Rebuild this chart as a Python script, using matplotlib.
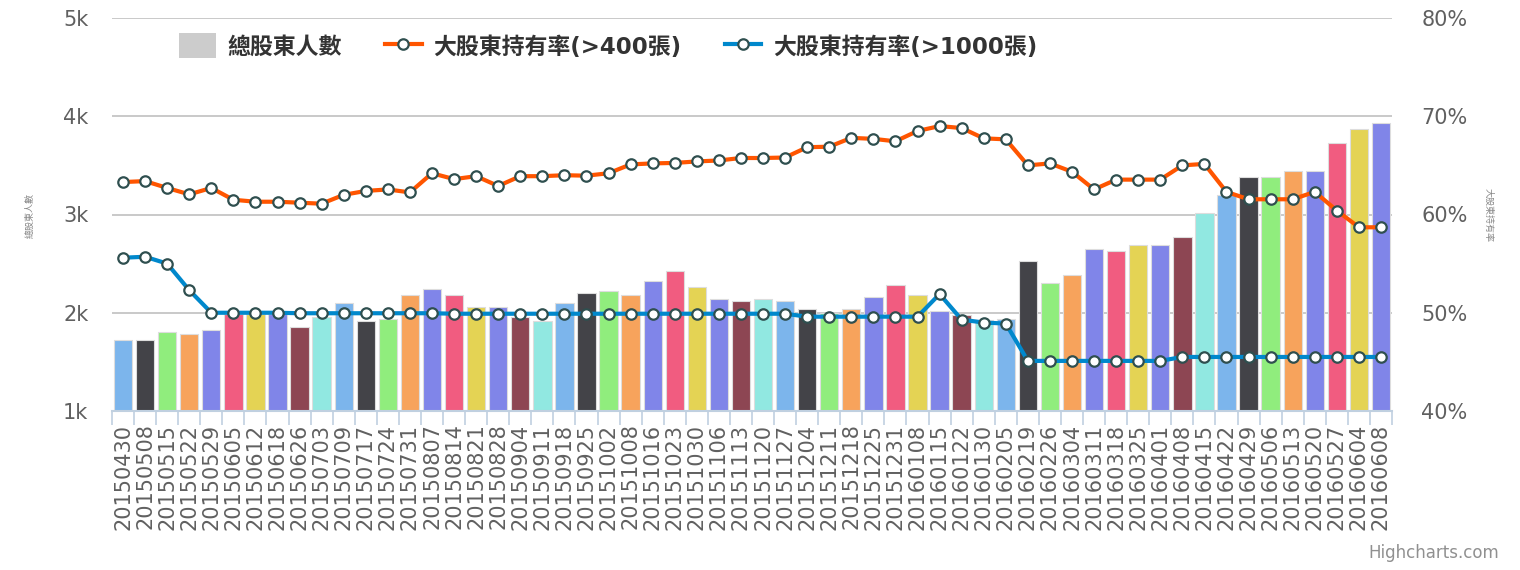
import matplotlib.pyplot as plt
from matplotlib.lines import Line2D
from matplotlib.patches import Patch
from matplotlib.ticker import FuncFormatter, MultipleLocator

plt.rcParams['font.family'] = ['DejaVu Sans', 'Noto Sans CJK TC']

# dates (x categories)
dates = ["20150430", "20150508", "20150515", "20150522", "20150529", "20150605",
         "20150612", "20150618", "20150626", "20150703", "20150709", "20150717",
         "20150724", "20150731", "20150807", "20150814", "20150821", "20150828",
         "20150904", "20150911", "20150918", "20150925", "20151002", "20151008",
         "20151016", "20151023", "20151030", "20151106", "20151113", "20151120",
         "20151127", "20151204", "20151211", "20151218", "20151225", "20151231",
         "20160108", "20160115", "20160122", "20160130", "20160205", "20160219",
         "20160226", "20160304", "20160311", "20160318", "20160325", "20160401",
         "20160408", "20160415", "20160422", "20160429", "20160506", "20160513",
         "20160520", "20160527", "20160604", "20160608"]

# total shareholders
holders = [1720, 1720, 1800, 1780, 1820, 1990, 1990, 1990, 1860, 1960,
           2100, 1920, 1940, 2185, 2245, 2180, 2060, 2060, 1960, 1920,
           2100, 2205, 2220, 2180, 2325, 2425, 2265, 2140, 2120, 2140,
           2120, 2040, 2000, 2040, 2160, 2285, 2180, 2020, 1980, 1925,
           1935, 2530, 2305, 2385, 2650, 2630, 2690, 2690, 2770, 3015,
           3200, 3380, 3380, 3445, 3445, 3730, 3870, 3935]

# holding ratio >400
ratio_400 = [63.3, 63.4, 62.7, 62.05, 62.7, 61.5, 61.3, 61.3, 61.2, 61.1,
             62.0, 62.4, 62.55, 62.25, 64.2, 63.6, 63.9, 62.9, 63.9, 63.9,
             64.0, 63.95, 64.2, 65.1, 65.2, 65.25, 65.4, 65.5, 65.75, 65.75,
             65.8, 66.85, 66.9, 67.8, 67.7, 67.45, 68.5, 69.0, 68.8, 67.75,
             67.65, 65.0, 65.2, 64.35, 62.55, 63.55, 63.55, 63.55, 65.0, 65.15,
             62.3, 61.55, 61.55, 61.55, 62.3, 60.4, 58.7, 58.7]

# holding ratio >1000
ratio_1000 = [55.6, 55.7, 55.0, 52.3, 50.0, 50.0, 50.0, 50.0, 49.95, 49.95,
              49.95, 49.95, 49.95, 49.95, 49.95, 49.9, 49.9, 49.9, 49.9, 49.9,
              49.9, 49.9, 49.9, 49.9, 49.9, 49.9, 49.9, 49.9, 49.9, 49.9,
              49.9, 49.6, 49.6, 49.6, 49.6, 49.6, 49.6, 51.9, 49.3, 49.0,
              48.9, 45.1, 45.1, 45.1, 45.1, 45.1, 45.1, 45.1, 45.5, 45.5,
              45.5, 45.5, 45.5, 45.5, 45.5, 45.5, 45.5, 45.5]

palette = ['#7cb5ec', '#434348', '#90ed7d', '#f7a35c', '#8085e9',
           '#f15c80', '#e4d354', '#8085e8', '#8d4653', '#91e8e1']
bar_colors = [palette[i % len(palette)] for i in range(len(dates))]

fig = plt.figure(figsize=(15.2, 5.7), dpi=100)
ax = fig.add_axes([112 / 1520, 1 - 411 / 570, 1280 / 1520, 393 / 570])
x = list(range(len(dates)))

ax.bar(x, holders, width=0.83, bottom=0, color=bar_colors,
       edgecolor='#dddddd', linewidth=0.8, zorder=2)
ax.set_ylim(1000, 5000)
ax.set_xlim(-0.5, len(dates) - 0.5)
ax.yaxis.set_major_locator(MultipleLocator(1000))
ax.yaxis.set_major_formatter(FuncFormatter(lambda v, p: f"{int(v / 1000)}k"))
ax.grid(axis='y', color='#c0c0c0', linewidth=1.2, zorder=0)
ax.set_axisbelow(True)
for s in ['top', 'left', 'right']:
    ax.spines[s].set_visible(False)
ax.spines['bottom'].set_color('#c0d0e0')
ax.spines['bottom'].set_linewidth(1.5)

ax.set_xticks(x)
ax.set_xticklabels(dates, rotation=90, fontsize=15, color='#606060')
ax.set_xticks([i - 0.5 for i in range(len(dates) + 1)], minor=True)
ax.tick_params(axis='x', which='major', length=0, pad=9)
ax.tick_params(axis='x', which='minor', length=10, color='#c0d0e0', width=1.2)
ax.tick_params(axis='y', length=0, labelsize=15, labelcolor='#606060', pad=17)

ax2 = ax.twinx()
ax2.set_ylim(40, 80)
ax2.yaxis.set_major_locator(MultipleLocator(10))
ax2.yaxis.set_major_formatter(FuncFormatter(lambda v, p: f"{int(v)}%"))
ax2.tick_params(axis='y', length=0, labelsize=15, labelcolor='#606060', pad=21)
for s in ['top', 'left', 'right', 'bottom']:
    ax2.spines[s].set_visible(False)

mk = dict(marker='o', markersize=7.5, markerfacecolor='white',
          markeredgecolor='#2f4f4f', markeredgewidth=1.6)
ax2.plot(x, ratio_400, color='#ff5500', linewidth=3, zorder=4, **mk)
ax2.plot(x, ratio_1000, color='#0088cc', linewidth=3, zorder=3, **mk)

# axis titles
fig.text(30 / 1520, 1 - 215 / 570, '總股東人數', rotation=90, fontsize=6.5,
         color='#888888', ha='center', va='center')
fig.text(1488 / 1520, 1 - 215 / 570, '大股東持有率', rotation=270, fontsize=6.5,
         color='#888888', ha='center', va='center')

handles = [
    Patch(facecolor='#cccccc', edgecolor='none'),
    Line2D([], [], color='#ff5500', linewidth=3, **mk),
    Line2D([], [], color='#0088cc', linewidth=3, **mk),
]
labels = ['總股東人數', '大股東持有率(>400張)', '大股東持有率(>1000張)']
leg = fig.legend(handles, labels, loc='center', ncol=3, frameon=False,
                 bbox_to_anchor=(608 / 1520, 1 - 46 / 570),
                 prop={'size': 16.5, 'weight': 'bold'},
                 handlelength=1.6, handleheight=1.3, columnspacing=1.9,
                 handletextpad=0.5)
for t in leg.get_texts():
    t.set_color('#333333')

fig.text(1499 / 1520, 1 - 553 / 570, 'Highcharts.com', fontsize=12,
         color='#909090', ha='right', va='center')

fig.savefig('out.png', dpi=100)
